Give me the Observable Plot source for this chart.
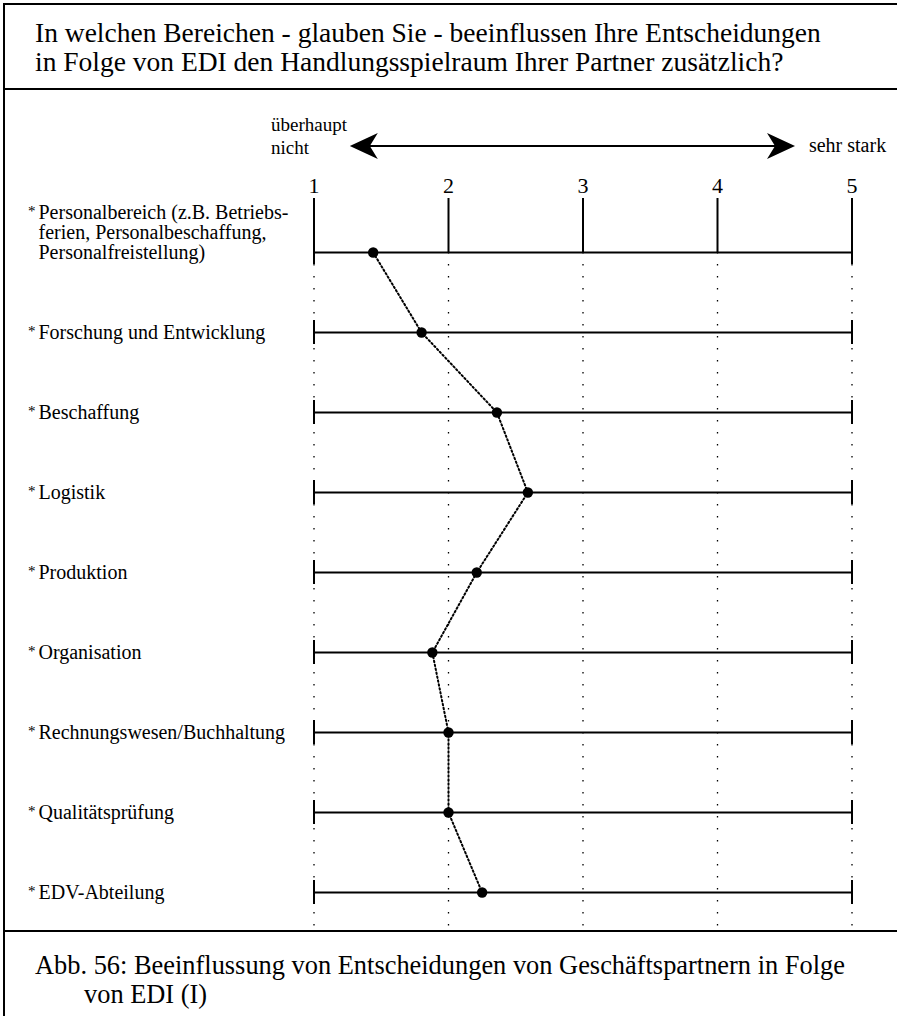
<!DOCTYPE html>
<html><head><meta charset="utf-8">
<script src="https://cdn.jsdelivr.net/npm/d3@7"></script>
<script src="https://cdn.jsdelivr.net/npm/@observablehq/plot@0.6"></script>
<style>
html,body{margin:0;padding:0;background:#fff;}
body{font-family:"Liberation Serif","Times New Roman",serif;color:#000;width:897px;height:1016px;overflow:hidden;position:relative;}
#frame{position:absolute;left:3px;top:3px;width:900px;height:1020px;border-left:2px solid #000;border-top:2px solid #000;}
#title{position:absolute;left:35px;top:18px;font-size:27.5px;line-height:29px;white-space:nowrap;}
#hr1{position:absolute;left:3px;top:88px;width:900px;height:2px;background:#000;}
#chart{position:absolute;left:0;top:90px;}
#hr2{position:absolute;left:3px;top:930px;width:900px;height:2px;background:#000;}
#caption{position:absolute;left:35px;top:951px;font-size:26.4px;line-height:29px;white-space:nowrap;}
#caption .l2{padding-left:49px;}
</style>
</head><body>
<div id="frame"></div>
<div id="title">In welchen Bereichen - glauben Sie - beeinflussen Ihre Entscheidungen<br>in Folge von EDI den Handlungsspielraum Ihrer Partner zusätzlich?</div>
<div id="hr1"></div>
<div id="chart"></div>
<div id="hr2"></div>
<div id="caption"><div>Abb. 56: Beeinflussung von Entscheidungen von Geschäftspartnern in Folge</div><div class="l2">von EDI (I)</div></div>
<script>
// ---- data ----
const categories = [
  "Personalbereich (z.B. Betriebs-\nferien, Personalbeschaffung,\nPersonalfreistellung)",
  "Forschung und Entwicklung",
  "Beschaffung",
  "Logistik",
  "Produktion",
  "Organisation",
  "Rechnungswesen/Buchhaltung",
  "Qualitätsprüfung",
  "EDV-Abteilung"
];
const values = [1.44, 1.80, 2.36, 2.59, 2.21, 1.88, 2.00, 2.00, 2.25];
const scaleTicks = [1, 2, 3, 4, 5];
const scaleEnds = [1, 5];
const lowLabel = "überhaupt\nnicht";
const highLabel = "sehr stark";
const arrowSpan = [1.27, 4.58];
const lowLabelAt = 0.68;
const highLabelAt = 4.68;

const data = categories.map((c, i) => ({area: c, value: values[i]}));
const caps = categories.flatMap(c => scaleEnds.map(v => ({area: c, v})));
const first = categories[0];
const last = categories[categories.length - 1];

const arrowMark = (index, {x}, values, dims) => {
  const y = dims.marginTop - 52;
  const x1 = x(arrowSpan[0]), x2 = x(arrowSpan[1]);
  const g = d3.create("svg:g");
  g.append("line").attr("x1", x1 + 18).attr("x2", x2 - 18).attr("y1", y).attr("y2", y)
    .attr("stroke", "#000").attr("stroke-width", 2);
  g.append("path").attr("d", `M${x1},${y}L${x1 + 28},${y - 13}L${x1 + 20},${y}L${x1 + 28},${y + 13}Z`).attr("fill", "#000");
  g.append("path").attr("d", `M${x2},${y}L${x2 - 28},${y - 13}L${x2 - 20},${y}L${x2 - 28},${y + 13}Z`).attr("fill", "#000");
  return g.node();
};

const chart = Plot.plot({
  width: 897,
  height: 840,
  marginLeft: 313.5,
  marginRight: 45.5,
  marginTop: 108,
  marginBottom: 5,
  style: {fontFamily: "Liberation Serif, Times New Roman, serif", color: "#000", background: "transparent", overflow: "visible"},
  x: {domain: [1, 5]},
  y: {type: "band", domain: categories, range: [121.7, 841.7], padding: 0, axis: null},
  marks: [
    // dotted vertical guides from the first row down to the bottom
    Plot.ruleX(scaleTicks, {y1: () => first, y2: () => last, insetTop: 40, insetBottom: 6.5, stroke: "#000", strokeWidth: 1.3, strokeDasharray: "1.5,10.5"}),
    // solid tick lines from the scale numbers down to the first row
    Plot.ruleX(scaleTicks, {y1: () => first, y2: () => first, insetTop: -14, insetBottom: 40, stroke: "#000", strokeWidth: 2}),
    Plot.ruleY(categories, {x1: scaleEnds[0], x2: scaleEnds[1], stroke: "#000", strokeWidth: 2}),
    Plot.tickX(caps, {x: "v", y: "area", insetTop: 28, insetBottom: 28, stroke: "#000", strokeWidth: 2}),
    Plot.line(data, {x: "value", y: "area", stroke: "#000", strokeWidth: 2, strokeDasharray: "1.5,2.5"}),
    Plot.dot(data, {x: "value", y: "area", r: 5.2, fill: "#000", stroke: "none"}),
    Plot.axisX(scaleTicks, {anchor: "top", tickSize: 0, tickPadding: 6, fontSize: 22, tickFormat: d => String(d)}),
    Plot.text([first], {y: d => d, text: d => d, frameAnchor: "left", textAnchor: "start", dx: -275.5, dy: 6, lineAnchor: "bottom", lineHeight: 1.0, fontSize: 20}),
    Plot.text(categories.slice(1), {y: d => d, text: d => d, frameAnchor: "left", textAnchor: "start", dx: -275.5, fontSize: 20}),
    Plot.text([first], {y: d => d, text: () => "*", frameAnchor: "left", textAnchor: "start", dx: -286, dy: -41, fontSize: 15}),
    Plot.text(categories.slice(1), {y: d => d, text: () => "*", frameAnchor: "left", textAnchor: "start", dx: -286, dy: -1, fontSize: 15}),
    Plot.text([lowLabel], {x: lowLabelAt, text: d => d, frameAnchor: "top", textAnchor: "start", lineAnchor: "bottom", lineHeight: 1.21, dy: -45, fontSize: 19}),
    Plot.text([highLabel], {x: highLabelAt, text: d => d, frameAnchor: "top", textAnchor: "start", lineAnchor: "bottom", dy: -47, fontSize: 20}),
    arrowMark
  ]
});
document.getElementById("chart").appendChild(chart);
</script>
</body></html>
